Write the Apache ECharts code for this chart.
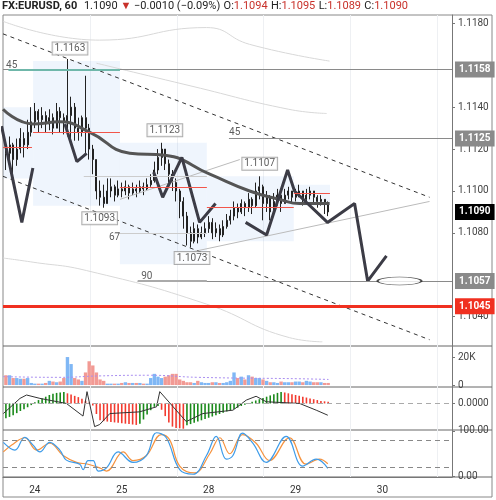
<!DOCTYPE html>
<html>
<head>
<meta charset="utf-8">
<script src="https://cdn.jsdelivr.net/npm/echarts@6/dist/echarts.min.js"></script>
<style>html,body{margin:0;padding:0;background:#fff}#main{width:496px;height:500px}</style>
</head>
<body>
<div id="main"></div>
<script>
// hourly bar index, 0 = start of day 24
var startIdx = -8;
var closes = [1.1118,1.1122,1.1115,1.1120,1.1125,1.1122,1.1128,1.1133,1.1138,1.1134,
  1.1136,1.1132,1.1135,1.1130,1.1138,1.1135,1.1133,1.1136,1.1140,1.1130,
  1.1128,1.1135,1.1130,1.1120,1.1115,1.1100,1.1097,1.1094,1.1100,1.1102,
  1.1098,1.1101,1.1100,1.1102,1.1099,1.1101,1.1100,1.1102,1.1101,1.1103,
  1.1105,1.1110,1.1116,1.1120,1.1113,1.1108,1.1104,1.1100,1.1095,1.1088,
  1.1080,1.1076,1.1082,1.1078,1.1080,1.1082,1.1085,1.1080,1.1082,1.1079,
  1.1083,1.1086,1.1088,1.1092,1.1090,1.1094,1.1092,1.1096,1.1093,1.1100,
  1.1102,1.1094,1.1097,1.1090,1.1095,1.1098,1.1094,1.1098,1.1100,1.1097,
  1.1099,1.1100,1.1096,1.1098,1.1100,1.1097,1.1095,1.1096,1.1094,1.1090];
var highs = [1.1124,1.1126,1.1123,1.1125,1.1130,1.1128,1.1134,1.1140,1.1142,1.1139,
  1.1140,1.1138,1.1139,1.1137,1.1142,1.1140,1.1137,1.1163,1.1145,1.1142,
  1.1135,1.1136,1.1155,1.1132,1.1122,1.1115,1.1105,1.1103,1.1106,1.1106,
  1.1103,1.1105,1.1104,1.1105,1.1103,1.1104,1.1103,1.1105,1.1104,1.1106,
  1.1108,1.1114,1.1120,1.1123,1.1120,1.1115,1.1110,1.1106,1.1101,1.1097,
  1.1090,1.1083,1.1085,1.1084,1.1083,1.1085,1.1088,1.1087,1.1085,1.1084,
  1.1086,1.1089,1.1091,1.1095,1.1094,1.1096,1.1095,1.1099,1.1097,1.1104,
  1.1107,1.1103,1.1100,1.1098,1.1099,1.1101,1.1099,1.1101,1.1102,1.1100,
  1.1101,1.1103,1.1100,1.1101,1.1102,1.1100,1.1098,1.1098,1.1096,1.1095];
var lows = [1.1110,1.1114,1.1108,1.1112,1.1118,1.1116,1.1120,1.1126,1.1130,1.1128,
  1.1130,1.1128,1.1129,1.1127,1.1130,1.1128,1.1127,1.1126,1.1125,1.1124,
  1.1124,1.1126,1.1118,1.1115,1.1108,1.1096,1.1093,1.1092,1.1094,1.1097,
  1.1095,1.1097,1.1097,1.1098,1.1096,1.1098,1.1097,1.1099,1.1098,1.1100,
  1.1102,1.1104,1.1108,1.1112,1.1110,1.1104,1.1100,1.1095,1.1087,1.1082,
  1.1074,1.1073,1.1075,1.1075,1.1077,1.1078,1.1080,1.1077,1.1078,1.1076,
  1.1078,1.1082,1.1084,1.1086,1.1087,1.1089,1.1088,1.1090,1.1089,1.1092,
  1.1096,1.1086,1.1090,1.1086,1.1088,1.1093,1.1090,1.1094,1.1096,1.1094,
  1.1095,1.1097,1.1093,1.1095,1.1096,1.1094,1.1092,1.1093,1.1089,1.1088];
var volumes = [7000,7000,5000,5000,4500,4500,5000,1500,1000,1000,
  1000,1500,3000,2500,2000,2500,5000,20000,15000,5000,
  4000,3000,9000,17000,14000,9000,4000,3000,1000,1000,
  1000,1000,1500,2000,1500,1500,1500,1500,1000,1000,
  5000,8000,6000,5000,6000,7000,8000,8000,4000,3000,
  2000,2000,1500,3000,2000,1500,1500,2000,2000,1500,
  1500,2000,3000,9000,5000,6000,4000,7000,6000,5000,
  5000,4000,3000,2000,2000,1500,2500,2000,2000,2000,
  2500,2500,2000,3000,2500,2000,2000,2000,1500,1500];
var volMaX = [-8.8, 6.9, 17.6, 31.4, 45.2, 72.8, 81.1];
var volMaY = [6000, 5500, 6500, 7000, 5500, 4500, 4000];
// MACD histogram, units of 1e-4
var macdHist = [-3.5,-3.2,-2.8,-2.3,-1.8,-1.4,-0.9,-0.4,0.3,0.8,
  1.2,1.6,2.0,2.3,2.5,2.6,2.7,2.4,2.1,1.8,
  1.5,1.1,0.6,0.2,-0.5,-2.5,-4.0,-4.2,-4.3,-4.4,
  -4.5,-4.6,-4.7,-4.8,-4.9,-5.0,-5.1,-4.8,-3.8,-2.6,
  -1.6,-0.8,-0.6,-1.5,-3.0,-4.5,-5.5,-5.8,-5.9,-6.0,
  -5.2,-4.9,-4.6,-4.3,-4.0,-3.7,-3.4,-3.1,-2.8,-2.5,
  -2.2,-1.9,-1.6,-1.3,-1.0,-0.6,-0.3,0.1,0.4,0.7,
  1.0,1.3,1.6,1.9,2.2,2.5,2.7,2.6,2.4,2.2,
  2.0,1.8,1.6,1.4,1.2,1.0,0.8,0.6,0.5,0.4];
var macdX = [-8.7,-4.1,-2.3,1.4,8.7,13.3,14.4,16.5,17.9,20.7,28.9,33.6,34.5,38.2,41.8,46.4,54.7,58.4,61.1,63.9,73.1,77.7,80.9];
var macdY = [-2.4,1.2,2.0,1.2,0,-3,2.8,-5.5,-5,-2.4,-2,-0.8,2.8,-0.8,-4.3,-2.4,-1.6,0.8,1.7,0.4,0,-1.6,-2.8];
var stochKX = [-8.7,-5.5,-2.8,-0.5,1.4,4.1,6.9,8.7,12.4,13.3,14.7,16.1,17.5,19.8,23,27.1,30.8,33.6,36.3,40,43.7,47.4,50.1,52.9,54.7,57.4,60.2,63.9,69.4,74,77.7,80.9];
var stochK = [75,58,86,69,54,75,58,36,27,15,35,35,12,19,54,31,46,96,85,15,5,46,88,38,46,95,73,31,88,23,38,18];
var stochDX = [-8.7,-6.4,-2.8,0.5,4.1,7.8,11.5,14.7,17.9,19.8,24.4,27.1,30.8,34.9,37.2,40,44.1,48.3,51.1,53.8,57.4,61.1,64.8,70.3,74.9,78.6,80.9];
var stochD = [54,69,85,58,73,46,31,27,19,12,54,35,46,92,81,23,8,50,85,50,92,73,35,85,27,38,28];
var maX = [-8.8,-0.55,6.9,15.2,26.2,35.9,48.3,59.3,67.6,73.1,81.4];
var maY = [1.1139,1.1132,1.1133,1.1128,1.1118,1.1117,1.1108,1.1100,1.1096,1.1094,1.1094];
var zigX = [-9.2,-3.6,-0.55,null,8.3,11.6,14.3,null,32.8,35.3,40.6,45.5,49.9,null,58.2,64,69.8,71.7,80.8,88.3,91.9,97.1];
var zigY = [1.1131,1.1085,1.1111,null,1.1132,1.1114,1.1118,null,1.1109,1.1097,1.1116,1.1085,1.1094,null,1.1085,1.1079,1.1110,1.1100,1.1085,1.1094,1.1057,1.1069];
var dayTicks = [0, 24, 48, 72, 96];
var dayLabels = ['24', '25', '28', '29', '30'];
var priceTicks = [1.104, 1.108, 1.110, 1.112, 1.114, 1.118];

var xMin = -8.8, xMax = 115.2;
var ohlc = [], volData = [], histData = [];
closes.forEach(function (c, i) {
  var o = i === 0 ? 1.1120 : closes[i - 1];
  ohlc.push([startIdx + i, o, c, lows[i], highs[i]]);
  volData.push({ value: [startIdx + i, volumes[i]], itemStyle: { color: c >= o ? '#7fb7f5' : '#f29a94' } });
  var up = i === 0 || macdHist[i] > macdHist[i - 1];
  histData.push({ value: [startIdx + i, macdHist[i] / 10000], itemStyle: { color: up ? '#1b8a1b' : '#f23b2f' } });
});
function pairs(xs, ys, k) {
  return xs.map(function (x, i) { return x === null ? [null, null] : [x, ys[i] * (k || 1)]; });
}

var grids = [
  { left: 3, right: 44, top: 15, height: 331 },
  { left: 3, right: 44, top: 346, height: 41 },
  { left: 3, right: 44, top: 387, height: 43 },
  { left: 3, right: 44, top: 430, height: 47 }
];
var xAxes = grids.map(function (g, i) {
  return {
    type: 'value', gridIndex: i, min: xMin, max: xMax,
    axisLine: { show: i === 3, onZero: false, lineStyle: { color: '#777' } },
    axisTick: { show: false },
    axisLabel: { show: i === 3, customValues: dayTicks, color: '#333', fontSize: 10, fontFamily: 'Roboto',
      formatter: function (v) { return dayLabels[dayTicks.indexOf(v)]; } },
    splitLine: { show: true, lineStyle: { color: '#eef0f3' }, showMinLine: false, showMaxLine: false },
    interval: 24
  };
});
var yCommon = {
  position: 'right', axisLine: { show: true, onZero: false, lineStyle: { color: '#777' } },
  axisTick: { show: true, length: 3, lineStyle: { color: '#777' } },
  axisLabel: { color: '#444', fontSize: 10, fontFamily: 'Roboto', margin: 6 }
};
var yAxes = [
  Object.assign({}, yCommon, { gridIndex: 0, min: 1.1026, max: 1.1184,
    axisLabel: Object.assign({}, yCommon.axisLabel, { customValues: priceTicks, formatter: function (v) { return v.toFixed(4); } }),
    axisTick: Object.assign({}, yCommon.axisTick, { customValues: priceTicks }),
    splitLine: { show: false } }),
  Object.assign({}, yCommon, { gridIndex: 1, min: -1400, max: 27900,
    axisLabel: Object.assign({}, yCommon.axisLabel, { customValues: [0, 20000], formatter: function (v) { return v ? v / 1000 + 'K' : '0'; } }),
    axisTick: Object.assign({}, yCommon.axisTick, { customValues: [0, 20000] }), splitLine: { show: false } }),
  Object.assign({}, yCommon, { gridIndex: 2, min: -0.00063, max: 0.00039,
    axisLabel: Object.assign({}, yCommon.axisLabel, { customValues: [0], formatter: function (v) { return '0.0000'; } }),
    axisTick: Object.assign({}, yCommon.axisTick, { customValues: [0] }), splitLine: { show: false } }),
  Object.assign({}, yCommon, { gridIndex: 3, min: -1, max: 102,
    axisLabel: Object.assign({}, yCommon.axisLabel, { customValues: [0, 100], formatter: function (v) { return v.toFixed(2); } }),
    axisTick: Object.assign({}, yCommon.axisTick, { customValues: [0, 100] }), splitLine: { show: false } })
];

function seg(x1, x2, y, color, w) {
  return [{ coord: [x1, y], lineStyle: { color: color, width: w || 1, type: 'solid' } }, { coord: [x2, y] }];
}
function tag(y, bg, x1) {
  return [{ coord: [x1 === undefined ? xMin : x1, y], lineStyle: { color: bg === '#000' ? 'transparent' : bg, width: 1, type: 'solid' },
    label: { show: true, position: 'end', formatter: y.toFixed(4), backgroundColor: bg, color: '#fff',
      padding: [3, 4], fontSize: 10, fontWeight: 'bold', fontFamily: 'Roboto', distance: 3 } }, { coord: [xMax, y] }];
}
function callout(x, y, txt) {
  return { value: [x, y], label: { show: true, formatter: txt, position: 'inside', color: '#333', fontSize: 10, fontFamily: 'Roboto',
    backgroundColor: '#fff', borderColor: '#999', borderWidth: 1, padding: [1, 2] } };
}
function note(x, y, txt) {
  return { value: [x, y], label: { show: true, formatter: txt, position: 'inside', color: '#333', fontSize: 10, fontFamily: 'Roboto' } };
}

var option = {
  animation: false,
  grid: grids,
  xAxis: xAxes,
  yAxis: yAxes,
  graphic: [
    { type: 'text', left: 2, top: 0, style: { rich: {
        a: { fontSize: 11, fontWeight: 'bold', fill: '#222', fontFamily: 'Roboto' },
        r: { fontSize: 11, fill: '#c8312a', fontFamily: 'Roboto' },
        k: { fontSize: 11, fill: '#222', fontFamily: 'Roboto' } },
      text: '{a|FX:EURUSD, 60}  {k|1.1090}{r| ▼ }{k|−0.0010 (−0.09%)} {k|O:}{r|1.1094} {k|H:}{r|1.1095} {k|L:}{r|1.1089} {k|C:}{r|1.1090}' } },
    { type: 'rect', shape: { x: 3, y: 15, width: 489, height: 482 }, style: { fill: 'none', stroke: '#888', lineWidth: 1 }, silent: true }
  ],
  series: [
    { // volume profile boxes
      type: 'line', xAxisIndex: 0, yAxisIndex: 0, data: [], silent: true,
      markArea: { silent: true, itemStyle: { color: 'rgba(80,140,230,0.09)' }, data: [
        [{ coord: [-8.8, 1.1140] }, { coord: [-0.5, 1.1106] }],
        [{ coord: [-0.5, 1.1162] }, { coord: [23.5, 1.1093] }],
        [{ coord: [23.5, 1.1123] }, { coord: [47.5, 1.1065] }],
        [{ coord: [47.5, 1.1107] }, { coord: [71.5, 1.1076] }],
        [{ coord: [71.5, 1.1103] }, { coord: [81.5, 1.1093] }]
      ] }
    },
    { type: 'line', data: pairs([-8.8, 17.9, 47.4, 59.3, 81.4], [1.1181, 1.1172, 1.1178, 1.1170, 1.1162]), symbol: 'none', smooth: true,
      lineStyle: { color: '#d8d8d8', width: 1 }, silent: true },
    { type: 'line', data: pairs([17, 43.4, 70.1, 80.6], [1.1161, 1.1150, 1.1139, 1.1137]), symbol: 'none', smooth: true,
      lineStyle: { color: '#d8d8d8', width: 1 }, silent: true },
    { type: 'line', data: pairs([-8.8, -0.5, 14.3, 47.4, 70.3, 79.4], [1.1068, 1.1066, 1.1062, 1.1046, 1.1030, 1.1028]), symbol: 'none', smooth: true,
      lineStyle: { color: '#d8d8d8', width: 1 }, silent: true },
    { type: 'line', data: pairs([43.6, 109], [1.1071, 1.1095]), symbol: 'none', lineStyle: { color: '#bbb', width: 1 }, silent: true },
    { type: 'line', data: pairs([23.5, 56.6], [1.1096, 1.1115]), symbol: 'none', lineStyle: { color: '#bbb', width: 1 }, silent: true },
    { type: 'line', data: pairs([-8.8, 109], [1.1175, 1.1097]), symbol: 'none', lineStyle: { color: '#333', width: 1, type: [4, 4] }, silent: true },
    { type: 'line', data: pairs([-8.8, 109], [1.1107, 1.1029]), symbol: 'none', lineStyle: { color: '#333', width: 1, type: [4, 4] }, silent: true },
    {
      type: 'candlestick', xAxisIndex: 0, yAxisIndex: 0, data: ohlc, barWidth: 1.5,
      itemStyle: { color: '#222', color0: '#222', borderColor: '#222', borderColor0: '#222', borderWidth: 1 },
      markLine: { symbol: 'none', silent: true, label: { show: false }, lineStyle: { type: 'solid' }, data: [
        tag(1.1158, '#8a8a8a'), tag(1.1125, '#8a8a8a', 53.6), tag(1.1090, '#000'), tag(1.1057, '#8a8a8a', 28.4),
        [{ coord: [xMin, 1.1045], lineStyle: { color: '#f03020', width: 3, type: 'solid' },
          label: { show: true, position: 'end', formatter: '1.1045', backgroundColor: '#f03020', color: '#fff', padding: [3, 4], fontSize: 10, fontWeight: 'bold', fontFamily: 'Roboto', distance: 3 } }, { coord: [xMax, 1.1045] }],
        seg(-7.3, 23.5, 1.1158, '#6fb7aa', 2),
        seg(-8.8, -0.8, 1.1121, '#f2554a', 1), seg(-0.5, 23.5, 1.1128, '#f2554a', 1),
        seg(23.5, 47.5, 1.1102, '#f2554a', 1), seg(47.5, 71.5, 1.1092, '#f2554a', 1), seg(71.5, 81.5, 1.1099, '#f2554a', 1),
        seg(28.4, 47.5, 1.1057, '#aaa', 2), seg(22, 47.5, 1.1080, '#ccc', 1), seg(13.5, 47.5, 1.1107, '#ccc', 1)
      ] }
    },
    { type: 'line', data: pairs(maX, maY), symbol: 'none', smooth: true, lineStyle: { color: '#555', width: 3 }, silent: true },
    { type: 'line', data: pairs(zigX, zigY), symbol: 'none', connectNulls: false, lineStyle: { color: '#3c3c46', width: 3 }, silent: true },
    { type: 'scatter', symbolSize: 1, itemStyle: { color: 'transparent' }, silent: true, z: 10, data: [
      callout(9.7, 1.1168, '1.1163'), callout(35.9, 1.1129, '1.1123'), callout(62.1, 1.1113, '1.1107'),
      callout(17.9, 1.1087, '1.1093'), callout(43.4, 1.1068, '1.1073'),
      note(-6.4, 1.1160, '45'), note(55.2, 1.1128, '45'), note(22, 1.1078, '67'), note(30.9, 1.1059, '90')
    ] },
    { type: 'scatter', symbol: 'circle', symbolSize: [44, 8], data: [[100.7, 1.1057]], silent: true,
      itemStyle: { color: '#fff', borderColor: '#222', borderWidth: 1 }, z: 5 },
    // volume
    { type: 'bar', xAxisIndex: 1, yAxisIndex: 1, data: volData, barWidth: 3.4, silent: true },
    { type: 'line', xAxisIndex: 1, yAxisIndex: 1, data: pairs(volMaX, volMaY), symbol: 'none', smooth: true,
      lineStyle: { color: '#a98ef0', width: 1, type: [2, 2] }, silent: true },
    // MACD
    { type: 'bar', xAxisIndex: 2, yAxisIndex: 2, data: histData, barWidth: 1.6, silent: true,
      markLine: { symbol: 'none', silent: true, label: { show: false }, lineStyle: { color: '#aaa', type: [5, 4], width: 1 },
        data: [{ yAxis: 0.00007 }, { yAxis: -0.00026 }] } },
    { type: 'line', xAxisIndex: 2, yAxisIndex: 2, data: pairs(macdX, macdY, 0.0001), symbol: 'none',
      lineStyle: { color: '#333', width: 1 }, silent: true },
    // Stochastic
    { type: 'line', xAxisIndex: 3, yAxisIndex: 3, data: pairs(stochDX, stochD), symbol: 'none', smooth: 0.4,
      lineStyle: { color: '#f5923e', width: 1.2 }, silent: true,
      markLine: { symbol: 'none', silent: true, label: { show: false }, lineStyle: { color: '#888', type: [5, 4], width: 1 },
        data: [{ yAxis: 80 }, { yAxis: 20 }] } },
    { type: 'line', xAxisIndex: 3, yAxisIndex: 3, data: pairs(stochKX, stochK), symbol: 'none', smooth: 0.4,
      lineStyle: { color: '#3d9be9', width: 1.2 }, silent: true }
  ]
};
// pane separators
option.graphic.push(
  { type: 'line', shape: { x1: 3, y1: 346, x2: 492, y2: 346 }, style: { stroke: '#666', lineWidth: 1 } },
  { type: 'line', shape: { x1: 3, y1: 387, x2: 492, y2: 387 }, style: { stroke: '#666', lineWidth: 1 } },
  { type: 'line', shape: { x1: 3, y1: 430, x2: 492, y2: 430 }, style: { stroke: '#666', lineWidth: 1 } },
  { type: 'line', shape: { x1: 3, y1: 477, x2: 492, y2: 477 }, style: { stroke: '#666', lineWidth: 1 } }
);
var chart = echarts.init(document.getElementById('main'));
chart.setOption(option);
</script>
</body>
</html>
